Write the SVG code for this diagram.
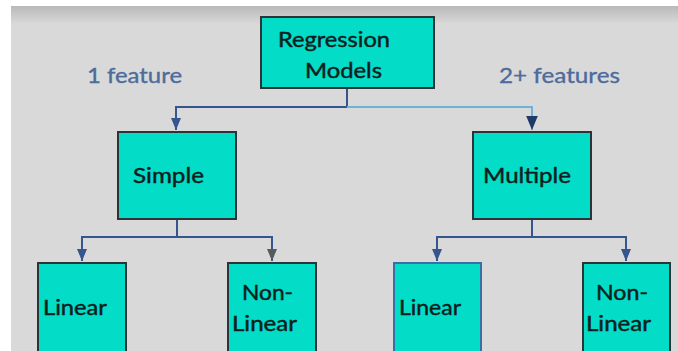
<svg xmlns="http://www.w3.org/2000/svg" width="678" height="351" viewBox="0 0 678 351">
<defs>
<linearGradient id="topShade" x1="0" y1="0" x2="0" y2="1">
<stop offset="0" stop-color="#b9b9b9"/>
<stop offset="1" stop-color="#d9d9d9"/>
</linearGradient>
<marker id="arBlue" viewBox="0 0 12 10" refX="12" refY="5" markerWidth="12" markerHeight="11" markerUnits="userSpaceOnUse" orient="auto">
<path d="M0,0 L12,5 L0,10 z" fill="#34558e"/>
</marker>
<marker id="arNavy" viewBox="0 0 12 10" refX="12" refY="5" markerWidth="14" markerHeight="13" markerUnits="userSpaceOnUse" orient="auto">
<path d="M0,0 L12,5 L0,10 z" fill="#1e3a68"/>
</marker>
<marker id="arGray" viewBox="0 0 12 10" refX="12" refY="5" markerWidth="12" markerHeight="11" markerUnits="userSpaceOnUse" orient="auto">
<path d="M0,0 L12,5 L0,10 z" fill="#555a60"/>
</marker>
</defs>
<style>
.box{fill:#03dcc6;stroke:#2c3438;stroke-width:2}
.boxb{fill:#03dcc6;stroke:#3a6ea5;stroke-width:2}
.t{font-family:Lato,"Liberation Sans",sans-serif;font-size:21px;fill:#0c1e1e;stroke:#0c1e1e;stroke-width:0.45;text-anchor:middle}
.lbl{font-family:Lato,"Liberation Sans",sans-serif;font-size:21px;fill:#4d6b9b;stroke:#4d6b9b;stroke-width:0.35;text-anchor:middle}
.c{fill:none;stroke:#34558e;stroke-width:2}
.cl{fill:none;stroke:#6cb3d8;stroke-width:2}
</style>
<rect x="0" y="0" width="678" height="351" fill="#ffffff"/>
<rect x="11" y="6" width="667" height="345" fill="#d9d9d9"/>
<rect x="11" y="6" width="667" height="18" fill="url(#topShade)"/>

<text class="lbl" x="134.5" y="83" textLength="95" lengthAdjust="spacingAndGlyphs">1 feature</text>
<text class="lbl" x="559.5" y="83" textLength="121" lengthAdjust="spacingAndGlyphs">2+ features</text>

<g id="connectors">
<path class="c" d="M347,88 V107 H176 V130" marker-end="url(#arBlue)"/>
<path class="cl" d="M347,107 H532 V130" marker-end="url(#arNavy)"/>
<path class="c" d="M177,219 V237 H82 V261" marker-end="url(#arBlue)"/>
<path class="c" d="M177,237 H272 V261" marker-end="url(#arGray)"/>
<path class="c" d="M532,219 V237 H437 V261" marker-end="url(#arBlue)"/>
<path class="c" d="M532,237 H626 V261" marker-end="url(#arBlue)"/>
</g>

<g id="regression-models">
<rect class="box" x="261" y="17" width="173" height="71"/>
<text class="t" x="334" y="47" textLength="112" lengthAdjust="spacingAndGlyphs">Regression</text>
<text class="t" x="343.5" y="78" textLength="77" lengthAdjust="spacingAndGlyphs">Models</text>
</g>

<g id="simple">
<rect class="box" x="118" y="132" width="118" height="87"/>
<text class="t" x="168.5" y="183" textLength="71" lengthAdjust="spacingAndGlyphs">Simple</text>
</g>

<g id="multiple">
<rect class="box" x="473" y="132" width="118" height="87"/>
<text class="t" x="527" y="183" textLength="88" lengthAdjust="spacingAndGlyphs">Multiple</text>
</g>

<g id="simple-linear">
<rect class="box" x="38" y="263" width="88" height="100"/>
<text class="t" x="75" y="315" textLength="64" lengthAdjust="spacingAndGlyphs">Linear</text>
</g>

<g id="simple-nonlinear">
<rect class="box" x="228" y="263" width="88" height="100"/>
<text class="t" x="267.5" y="300" textLength="51" lengthAdjust="spacingAndGlyphs">Non-</text>
<text class="t" x="264.5" y="331" textLength="65" lengthAdjust="spacingAndGlyphs">Linear</text>
</g>

<g id="multiple-linear">
<rect class="boxb" x="394" y="263" width="87" height="100"/>
<text class="t" x="430" y="315" textLength="62" lengthAdjust="spacingAndGlyphs">Linear</text>
</g>

<g id="multiple-nonlinear">
<rect class="box" x="583" y="263" width="87" height="100"/>
<text class="t" x="622" y="300" textLength="52" lengthAdjust="spacingAndGlyphs">Non-</text>
<text class="t" x="618.5" y="331" textLength="65" lengthAdjust="spacingAndGlyphs">Linear</text>
</g>
</svg>
